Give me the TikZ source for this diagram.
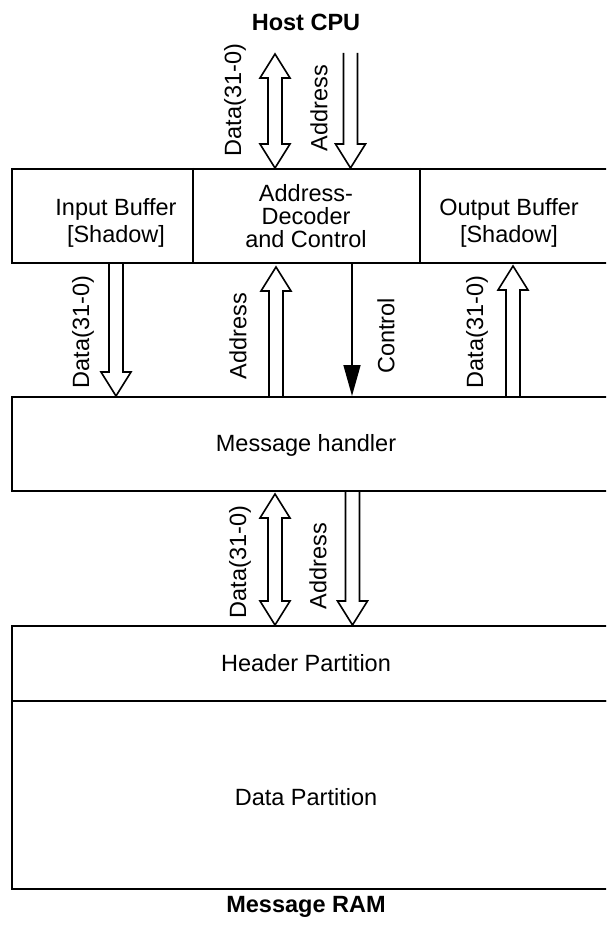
\documentclass[tikz,border=0pt]{standalone}
\usepackage{fontspec}
\setmainfont{Liberation Sans}
\usetikzlibrary{arrows.meta}
\newcommand{\blkdown}[3]{%
  \draw[blk] ({#1-7},#2) -- ({#1-7},{#3-24}) -- ({#1-15},{#3-24}) -- (#1,#3) -- ({#1+15},{#3-24}) -- ({#1+7},{#3-24}) -- ({#1+7},#2);}
\newcommand{\blkup}[3]{%
  \draw[blk] ({#1-7},#2) -- ({#1-7},{#3+24}) -- ({#1-15},{#3+24}) -- (#1,#3) -- ({#1+15},{#3+24}) -- ({#1+7},{#3+24}) -- ({#1+7},#2);}
\newcommand{\blkboth}[3]{%
  \draw[blk] (#1,#2) -- ({#1+15},{#2+24}) -- ({#1+7},{#2+24}) -- ({#1+7},{#3-24}) -- ({#1+15},{#3-24}) -- (#1,#3) -- ({#1-15},{#3-24}) -- ({#1-7},{#3-24}) -- ({#1-7},{#2+24}) -- ({#1-15},{#2+24}) -- cycle;}
\begin{document}
\begin{tikzpicture}[x=1pt,y=-1pt,
  box/.style={draw, line width=1.8pt, rectangle, inner sep=0pt, anchor=north west},
  blk/.style={line width=1.6pt, line join=miter},
  lbl/.style={font=\fontsize{23.5}{27}\selectfont, inner sep=0pt, align=center},
  lbltight/.style={font=\fontsize{23.5}{23}\selectfont, inner sep=0pt, align=center},
  ttl/.style={font=\fontsize{23.5}{27}\selectfont\bfseries, inner sep=0pt}]
\useasboundingbox (0,0) rectangle (606,928);
\clip (0,0) rectangle (606,928);
% boxes
\node[box, minimum width=620pt, minimum height=94pt] (topbox) at (11,168) {};
\draw[line width=1.8pt] (193,168) -- (193,262);
\draw[line width=1.8pt] (420,168) -- (420,262);
\node[box, minimum width=620pt, minimum height=94pt] (mh) at (11,396) {};
\node[box, minimum width=620pt, minimum height=75pt] (hp) at (11,625) {};
\node[box, minimum width=620pt, minimum height=188pt] (dp) at (11,700) {};
% texts
\node[ttl] (host) at (306,22) {Host CPU};
\node[ttl] (ram) at (306,907) {Message RAM};
\node[lbl] (inbuf) at (116,223) {Input Buffer\\{[Shadow]}};
\node[lbltight] (adc) at (306,216) {Address-\\Decoder\\and Control};
\node[lbl] (outbuf) at (509,223) {Output Buffer\\{[Shadow]}};
\node[lbl] (mhtxt) at (306,445) {Message handler};
\node[lbl] (hptxt) at (306,663) {Header Partition};
\node[lbl] (dptxt) at (306,797) {Data Partition};
% top arrows
\blkboth{275}{54}{168}
\blkdown{350.5}{53}{168}
\node[lbl, rotate=90] (l1) at (235,100) {Data(31-0)};
\node[lbl, rotate=90] (l2) at (319,108) {Address};
% middle arrows
\blkdown{116}{262}{396}
\blkup{276}{396}{267}
\draw[line width=1.6pt, -{Triangle[width=17pt,length=31pt]}] (352,262) -- (352,396);
\blkup{513}{396}{266}
\node[lbl, rotate=90] (l3) at (83,332) {Data(31-0)};
\node[lbl, rotate=90] (l4) at (238,336) {Address};
\node[lbl, rotate=90] (l5) at (386,336) {Control};
\node[lbl, rotate=90] (l6) at (477,332) {Data(31-0)};
% lower arrows
\blkboth{275}{494}{625}
\blkdown{352.5}{490}{625}
\node[lbl, rotate=90] (l7) at (240,562) {Data(31-0)};
\node[lbl, rotate=90] (l8) at (318,566) {Address};
\end{tikzpicture}
\end{document}
